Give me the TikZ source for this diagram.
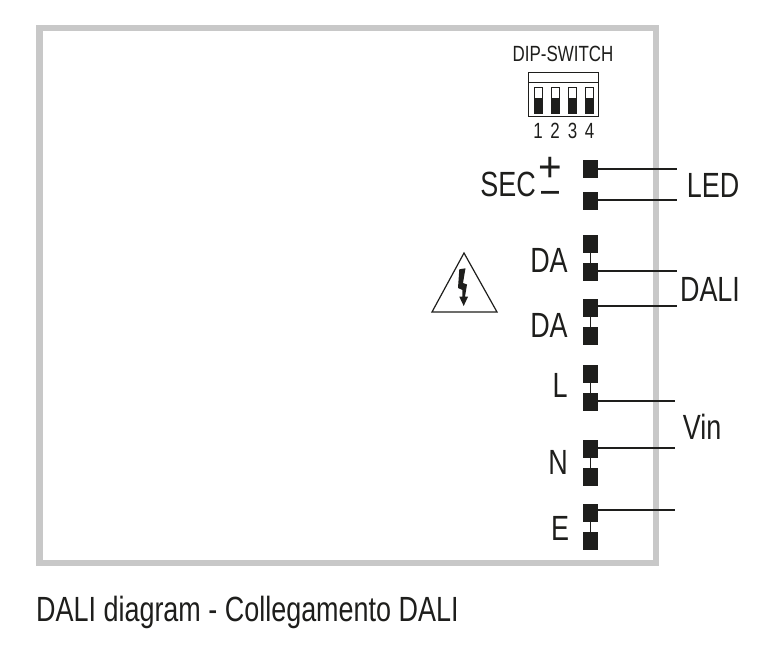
\documentclass[tikz,border=0pt]{standalone}
\usepackage{fontspec}
\setmainfont{Liberation Sans}[FakeStretch=0.77]
\usepackage{tikz}

\tikzset{
    term/.style={fill=termblack, inner sep=0pt, minimum width=15pt, minimum height=18pt},
    lbl/.style={inner sep=0pt, text=termblack, font=\fontsize{35}{35}\selectfont},
    small/.style={inner sep=0pt, text=termblack, font=\fontsize{22}{22}\selectfont},
    wire/.style={draw=termblack, line width=1.3pt},
    bridge/.style={draw=termblack, line width=1.8pt}
}
\definecolor{termblack}{RGB}{30,30,28}
\definecolor{framegray}{RGB}{200,200,200}

\begin{document}
\begin{tikzpicture}[x=1pt, y=-1pt]
    \useasboundingbox (0,0) rectangle (784,663);

    \draw[framegray, line width=6.5pt] (39.25,28.25) rectangle (655.75,562.75);

    % dip switch
    \node [small] (diptitle) at (563,54) {DIP-SWITCH};
    \draw[termblack, line width=1pt] (528,73) rectangle (598,117);
    \draw[termblack, line width=1pt] (528,83) -- (598,83);
    \foreach \x/\n in {538/1, 555/2, 572.5/3, 589.5/4} {
        \draw[termblack, line width=0.8pt] (\x-4,87) rectangle (\x+4,113);
        \fill[termblack] (\x-4,98) rectangle (\x+4,113);
        \node [small] (dip\n) at (\x,131) {\n};
    }

    % terminals
    \node [term] (secp) at (590.5,169) {};
    \node [term] (secm) at (590.5,201) {};
    \node [term] (daa) at (590.5,244) {};
    \node [term] (dab) at (590.5,272) {};
    \node [term] (dac) at (590.5,308) {};
    \node [term] (dad) at (590.5,336) {};
    \node [term] (la) at (590.5,374) {};
    \node [term] (lb) at (590.5,402) {};
    \node [term] (na) at (590.5,449) {};
    \node [term] (nb) at (590.5,477) {};
    \node [term] (ea) at (590.5,513) {};
    \node [term] (eb) at (590.5,541) {};

    \draw[bridge] (daa) -- (dab);
    \draw[bridge] (dac) -- (dad);
    \draw[bridge] (la) -- (lb);
    \draw[bridge] (na) -- (nb);
    \draw[bridge] (ea) -- (eb);

    % free wire ends
    \coordinate (secpend) at (677,169);
    \coordinate (secmend) at (677,200);
    \coordinate (dabend) at (677,271);
    \coordinate (dacend) at (677,306);
    \coordinate (lbend) at (675,401);
    \coordinate (naend) at (675,448);
    \coordinate (eaend) at (675,510);

    \draw[wire] (secp.east |- secpend) -- (secpend);
    \draw[wire] (secm.east |- secmend) -- (secmend);
    \draw[wire] (dab.east |- dabend) -- (dabend);
    \draw[wire] (dac.east |- dacend) -- (dacend);
    \draw[wire] (lb.east |- lbend) -- (lbend);
    \draw[wire] (na.east |- naend) -- (naend);
    \draw[wire] (ea.east |- eaend) -- (eaend);

    % labels
    \node [lbl] (sec) at (508,184) {SEC};
    \node [lbl, font=\fontsize{42}{42}\selectfont, xscale=1.25] (plus) at (550,169) {+};
    \node [lbl, font=\fontsize{42}{42}\selectfont] (minus) at (550,197) {–};
    \node [lbl] (dalabela) at (549,260) {DA};
    \node [lbl] (dalabelb) at (549,325) {DA};
    \node [lbl] (llabel) at (560,385) {L};
    \node [lbl] (nlabel) at (558,462) {N};
    \node [lbl] (elabel) at (560,528) {E};
    \node [lbl] (led) at (713,185) {LED};
    \node [lbl] (dali) at (710,289) {DALI};
    \node [lbl] (vin) at (702,427) {Vin};
    \node [lbl, anchor=west] (caption) at (36,612) {DALI diagram - Collegamento DALI};

    % warning sign
    \draw[termblack, line width=1.2pt, line join=miter] (464,253) -- (497,312) -- (432,312) -- cycle;
    \fill[termblack] (459.3,269.3) -- (465.5,268.3) -- (463,283) -- (467,284.5) -- (465,296.7) -- (468,296.7) -- (463.7,306) -- (459.3,296.7) -- (462.3,296.7) -- (462.5,290) -- (458,288) -- cycle;
\end{tikzpicture}
\end{document}
